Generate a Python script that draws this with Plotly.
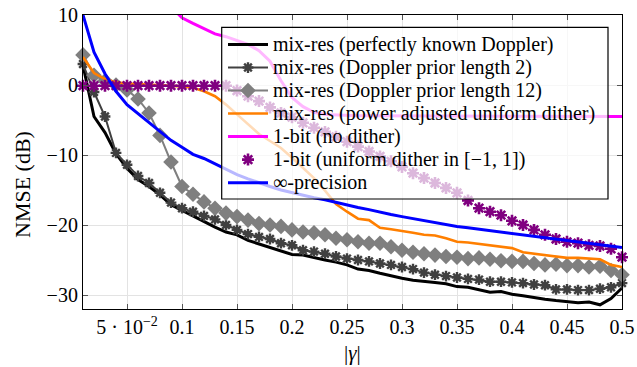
import plotly.graph_objects as go

gamma = [0.01, 0.02, 0.03, 0.04, 0.05, 0.06, 0.07, 0.08, 0.09, 0.10,
         0.11, 0.12, 0.13, 0.14, 0.15, 0.16, 0.17, 0.18, 0.19, 0.20,
         0.21, 0.22, 0.23, 0.24, 0.25, 0.26, 0.27, 0.28, 0.29, 0.30,
         0.31, 0.32, 0.33, 0.34, 0.35, 0.36, 0.37, 0.38, 0.39, 0.40,
         0.41, 0.42, 0.43, 0.44, 0.45, 0.46, 0.47, 0.48, 0.49, 0.50]

known_doppler = [2.8, -4.5, -6.8, -9.8, -11.9, -13.5, -14.5, -15.7, -17.1, -17.9,
                 -18.8, -19.5, -20.3, -21.0, -21.4, -22.2, -22.7, -23.1, -23.6, -24.2,
                 -24.3, -24.7, -25.0, -25.3, -25.7, -26.3, -26.5, -26.9, -27.3, -27.6,
                 -27.9, -28.0, -28.2, -28.4, -28.8, -28.9, -29.2, -29.6, -29.5, -29.9,
                 -30.1, -30.4, -30.6, -30.8, -30.9, -31.1, -31.0, -31.4, -30.5, -29.0]

prior_len2 = [3.0, -1.0, -4.5, -9.7, -11.4, -13.0, -14.0, -15.4, -16.8, -17.6,
              -18.1, -18.7, -19.2, -20.0, -20.7, -21.3, -21.7, -22.0, -22.6, -22.9,
              -23.6, -23.8, -24.1, -24.5, -24.8, -25.0, -25.2, -25.5, -25.7, -26.0,
              -26.3, -26.8, -27.1, -27.3, -27.5, -27.7, -27.8, -28.1, -28.1, -28.2,
              -28.3, -28.5, -28.6, -29.2, -29.2, -29.3, -29.3, -29.1, -28.9, -28.3]

prior_len12 = [4.3, 1.4, 0.6, 0.0, -0.7, -2.0, -4.0, -7.2, -11.0, -14.5,
               -15.6, -16.7, -17.6, -18.3, -18.8, -19.3, -19.8, -20.0, -20.2, -20.7,
               -21.0, -21.1, -21.4, -21.9, -22.1, -22.4, -22.6, -22.6, -23.1, -23.6,
               -23.9, -24.1, -24.3, -24.5, -24.6, -24.8, -24.7, -24.9, -25.1, -25.2,
               -25.2, -25.5, -25.7, -25.6, -25.8, -25.8, -26.0, -25.9, -26.5, -27.1]

power_dither = [4.0, 1.7, 0.85, 0.4, 0.2, 0.14, 0.05, 0.0, -0.1, -0.2,
                -0.4, -0.9, -1.6, -2.8, -4.2, -5.6, -7.0, -8.0, -9.0, -10.4,
                -11.8, -13.3, -15.1, -17.0, -18.1, -19.1, -19.3, -20.4, -20.6, -20.8,
                -21.1, -21.4, -21.5, -21.9, -22.4, -22.5, -22.7, -22.9, -23.1, -23.3,
                -23.9, -24.1, -24.2, -24.4, -24.7, -24.7, -24.8, -24.9, -25.7, -26.0]

onebit_nodither = [30.0, 26.0, 23.0, 20.5, 18.5, 16.5, 14.5, 12.8, 11.2, 9.6,
                   8.8, 8.0, 7.3, 6.9, 6.4, 5.8, 4.9, 3.4, 0.6, -1.8,
                   -3.1, -3.9, -4.2, -4.3, -4.4, -4.4, -4.4, -4.4, -4.4, -4.4,
                   -4.4, -4.4, -4.4, -4.4, -4.4, -4.4, -4.4, -4.4, -4.4, -4.4,
                   -4.4, -4.4, -4.4, -4.4, -4.4, -4.4, -4.4, -4.4, -4.4, -4.5]

onebit_dither = [-0.1, -0.1, -0.1, -0.1, -0.1, -0.1, -0.1, -0.1, -0.1, -0.1,
                 -0.1, -0.1, -0.1, -0.1, -0.8, -1.6, -2.3, -3.2, -4.0, -4.6,
                 -5.4, -6.1, -6.7, -7.4, -8.1, -8.8, -9.5, -10.2, -10.9, -11.7,
                 -12.6, -13.3, -14.0, -14.7, -15.4, -16.5, -17.6, -18.1, -18.6, -19.4,
                 -20.0, -20.7, -21.4, -22.0, -22.4, -22.6, -22.9, -23.0, -23.4, -24.6]

inf_precision = [10.0, 4.7, 1.6, -0.9, -2.8, -4.1, -5.3, -6.7, -7.9, -8.9,
                 -9.9, -10.5, -11.3, -12.1, -12.8, -13.4, -14.0, -14.5, -15.0, -15.4,
                 -15.8, -16.1, -16.4, -16.8, -17.1, -17.5, -17.8, -18.2, -18.5, -18.8,
                 -19.1, -19.4, -19.7, -19.9, -20.2, -20.4, -20.6, -20.9, -21.1, -21.3,
                 -21.5, -21.7, -21.9, -22.1, -22.3, -22.5, -22.7, -22.8, -23.0, -23.2]

series_names = ["mix-res (perfectly known Doppler)",
                "mix-res (Doppler prior length 2)",
                "mix-res (Doppler prior length 12)",
                "mix-res (power adjusted uniform dither)",
                "1-bit (no dither)",
                "1-bit (uniform dither in [−1, 1])",
                "∞-precision"]

x_tickvals = [0.05, 0.1, 0.15, 0.2, 0.25, 0.3, 0.35, 0.4, 0.45, 0.5]
x_ticktext = ["5 · 10<sup>−2</sup>", "0.1", "0.15", "0.2", "0.25", "0.3", "0.35", "0.4", "0.45", "0.5"]
y_tickvals = [-30, -20, -10, 0, 10]
y_ticktext = ["−30", "−20", "−10", "0", "10"]

FONT = "Liberation Serif"
PURPLE = "#800080"


def lg(name):
    return '<span style="font-size:20px">' + name + '</span>'


fig = go.Figure()
fig.add_trace(go.Scatter(x=gamma, y=known_doppler, mode="lines",
                         name=lg(series_names[0]),
                         line=dict(color="black", width=3)))
fig.add_trace(go.Scatter(x=gamma, y=prior_len2, mode="lines+markers",
                         name=lg(series_names[1]), cliponaxis=False,
                         line=dict(color="#404040", width=2),
                         marker=dict(symbol="asterisk-open", size=9, color="#404040",
                                     line=dict(color="#404040", width=2.4))))
fig.add_trace(go.Scatter(x=gamma, y=prior_len12, mode="lines+markers",
                         name=lg(series_names[2]), cliponaxis=False,
                         line=dict(color="#7f7f7f", width=2),
                         marker=dict(symbol="diamond", size=12, color="#7f7f7f",
                                     line=dict(width=0))))
fig.add_trace(go.Scatter(x=gamma, y=power_dither, mode="lines",
                         name=lg(series_names[3]),
                         line=dict(color="#ff7f00", width=2.6)))
fig.add_trace(go.Scatter(x=gamma, y=onebit_nodither, mode="lines",
                         name=lg(series_names[4]),
                         line=dict(color="#ff00ff", width=3)))
fig.add_trace(go.Scatter(x=gamma, y=onebit_dither, mode="markers",
                         name=lg(series_names[5]), cliponaxis=False,
                         marker=dict(symbol="asterisk-open", size=10, color=PURPLE,
                                     line=dict(color=PURPLE, width=2.6))))
fig.add_trace(go.Scatter(x=gamma, y=inf_precision, mode="lines",
                         name=lg(series_names[6]),
                         line=dict(color="#0000ff", width=3)))

L, R, T, B = 83, 15, 15, 58
W, H = 637, 367
pw, ph = W - L - R, H - T - B


def px_x(p):
    return (p - L) / pw


def px_y(p):
    return 1 - (p - T) / ph


axis_common = dict(showline=True, linecolor="black", linewidth=1.2, mirror="ticks",
                   ticks="inside", ticklen=5, tickcolor="#555555", tickwidth=1,
                   showgrid=True, gridcolor="#e3e3e3", gridwidth=1, zeroline=False,
                   tickfont=dict(family=FONT, size=20, color="black"))

fig.update_xaxes(range=[0.01, 0.5], tickvals=x_tickvals, ticktext=x_ticktext, **axis_common)
fig.update_yaxes(range=[-32, 10], tickvals=y_tickvals, ticktext=y_ticktext, **axis_common)

fig.add_shape(type="rect", xref="paper", yref="paper", layer="above",
              x0=px_x(221.7), x1=px_x(608), y0=px_y(199), y1=px_y(27.3),
              fillcolor="rgba(255,255,255,0.72)", line=dict(color="black", width=1.2))

fig.add_annotation(text="NMSE (dB)", xref="paper", yref="paper", x=px_x(22), y=px_y(185),
                   textangle=-90, showarrow=False, xanchor="center", yanchor="middle",
                   font=dict(family=FONT, size=22, color="black"))
fig.add_annotation(text="|<i>γ</i>|", xref="paper", yref="paper", x=px_x(352), y=px_y(353),
                   showarrow=False, xanchor="center", yanchor="middle",
                   font=dict(family=FONT, size=21, color="black"))

fig.update_layout(
    width=W, height=H, margin=dict(l=L, r=R, t=T, b=B, autoexpand=False),
    paper_bgcolor="white", plot_bgcolor="white",
    showlegend=True,
    legend=dict(x=px_x(223), y=px_y(28), xanchor="left", yanchor="top",
                bgcolor="rgba(0,0,0,0)", borderwidth=0, itemwidth=40,
                font=dict(family=FONT, size=15.4, color="black"),
                tracegroupgap=0),
)

fig.write_html("out.html", config={"displayModeBar": False},
               post_script="document.body.style.margin='0px';")
